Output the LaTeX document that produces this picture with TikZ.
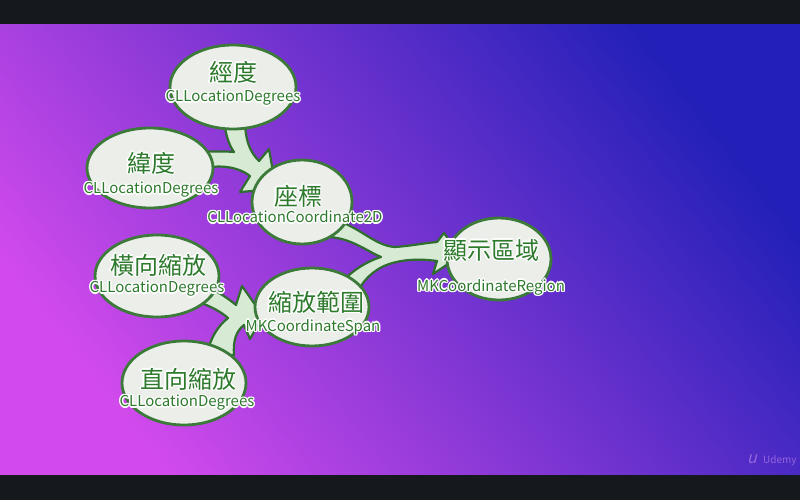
\documentclass[tikz,border=0pt]{standalone}
\usepackage{fontspec}
\setmainfont{Noto Sans CJK TC}
\newfontfamily\cjk{Noto Sans CJK TC}
\usetikzlibrary{shapes.geometric}
\definecolor{barbg}{HTML}{15181C}
\definecolor{gleft}{HTML}{D24AEC}
\definecolor{gmid}{HTML}{7A36D6}
\definecolor{gright}{HTML}{2220B8}
\definecolor{bubline}{HTML}{3C7A3A}
\definecolor{bubfill}{HTML}{ECEEEA}
\definecolor{arrline}{HTML}{306E30}
\definecolor{arrfill}{HTML}{D6EAD4}
\definecolor{txtgreen}{HTML}{2E7A2C}
\definecolor{wmark}{HTML}{9466DC}
\tikzset{
  bub/.style={ellipse, draw=bubline, fill=bubfill, line width=2.8pt, inner sep=0pt},
  fatarrow/.style={draw=arrline, fill=arrfill, line width=2.2pt, line join=round},
  cjklab/.style={font=\cjk\fontsize{24}{26}\selectfont, inner sep=0pt},
  enlab/.style={font=\cjk\fontsize{15}{17}\selectfont, inner sep=0pt},
}
% #1 name, #2 style, #3 position, #4 text
\newcommand{\glowlab}[4]{%
  \foreach \ang in {0,45,...,315}{%
    \node[#2, text=white, shift={(\ang:1.4)}] (#1-\ang) at #3 {#4};}
  \node[#2, text=txtgreen] (#1) at #3 {#4};}
\begin{document}
\begin{tikzpicture}[x=1pt,y=-1pt]
\useasboundingbox (0,0) rectangle (800,500);
\fill[barbg] (0,0) rectangle (800,500);
\shade[left color=gleft, middle color=gmid, right color=gright, shading angle=128] (0,25) rectangle (800,474);

% fat arrows (drawn beneath the bubbles)
\draw[fatarrow] (223,112) .. controls (225,135) and (229,145) .. (234,152)
  .. controls (225,151) and (212,152) .. (200,151)
  -- (200,169)
  .. controls (215,165) and (236,165) .. (250,176)
  -- (240,192) -- (276,189) -- (269,149) -- (259,161)
  .. controls (250,152) and (244,140) .. (245,112) -- cycle;

\draw[fatarrow] (335,220) .. controls (360,227) and (375,246) .. (395,247)
  .. controls (410,246) and (425,243) .. (437,242)
  -- (444,233) -- (460,256) -- (433,274) -- (437,261)
  .. controls (415,258) and (395,260) .. (380,268)
  .. controls (370,274) and (362,282) .. (358,292)
  -- (337,287)
  .. controls (350,272) and (365,262) .. (381,257)
  .. controls (365,250) and (352,239) .. (330,237) -- cycle;

\draw[fatarrow] (200,283) .. controls (215,290) and (228,298) .. (236,305)
  -- (242,286) -- (263,316) -- (250,339) -- (244,325)
  .. controls (236,331) and (233,341) .. (234,355)
  -- (207,355)
  .. controls (210,338) and (218,326) .. (228,318)
  .. controls (220,311) and (210,306) .. (196,301) -- cycle;

% bubbles
\node[bub, minimum width=126pt, minimum height=84pt] (jingdu) at (233,87) {};
\node[bub, minimum width=126pt, minimum height=80pt] (weidu) at (150,168) {};
\node[bub, minimum width=100pt, minimum height=84pt] (zuobiao) at (302,202) {};
\node[bub, minimum width=104pt, minimum height=82pt] (xianshi) at (499,259) {};
\node[bub, minimum width=124pt, minimum height=82pt] (hengxiang) at (157,276) {};
\node[bub, minimum width=114pt, minimum height=78pt] (suofang) at (312,307) {};
\node[bub, minimum width=124pt, minimum height=84pt] (zhixiang) at (184,383) {};

% labels with white halo
\glowlab{t1}{cjklab}{(233,72)}{經度}
\glowlab{e1}{enlab}{(233,98)}{CLLocationDegrees}
\glowlab{t2}{cjklab}{(151,163)}{緯度}
\glowlab{e2}{enlab}{(151,190)}{CLLocationDegrees}
\glowlab{t3}{cjklab}{(298,196)}{座標}
\glowlab{e3}{enlab}{(295,217)}{CLLocationCoordinate2D}
\glowlab{t4}{cjklab}{(491,250)}{顯示區域}
\glowlab{e4}{enlab}{(491,287)}{MKCoordinateRegion}
\glowlab{t5}{cjklab}{(158,265)}{橫向縮放}
\glowlab{e5}{enlab}{(157,289)}{CLLocationDegrees}
\glowlab{t6}{cjklab}{(316,302)}{縮放範圍}
\glowlab{e6}{enlab}{(313,327)}{MKCoordinateSpan}
\glowlab{t7}{cjklab}{(188,379)}{直向縮放}
\glowlab{e7}{enlab}{(187,403)}{CLLocationDegrees}

% watermark
\node[text=wmark, font=\cjk\fontsize{10}{12}\selectfont, inner sep=0pt, anchor=west] (wm) at (763,461) {Udemy};
\node[text=wmark, font=\cjk\fontsize{16}{18}\selectfont, inner sep=0pt, xslant=0.25] (wl) at (753,459) {u};
\end{tikzpicture}
\end{document}
